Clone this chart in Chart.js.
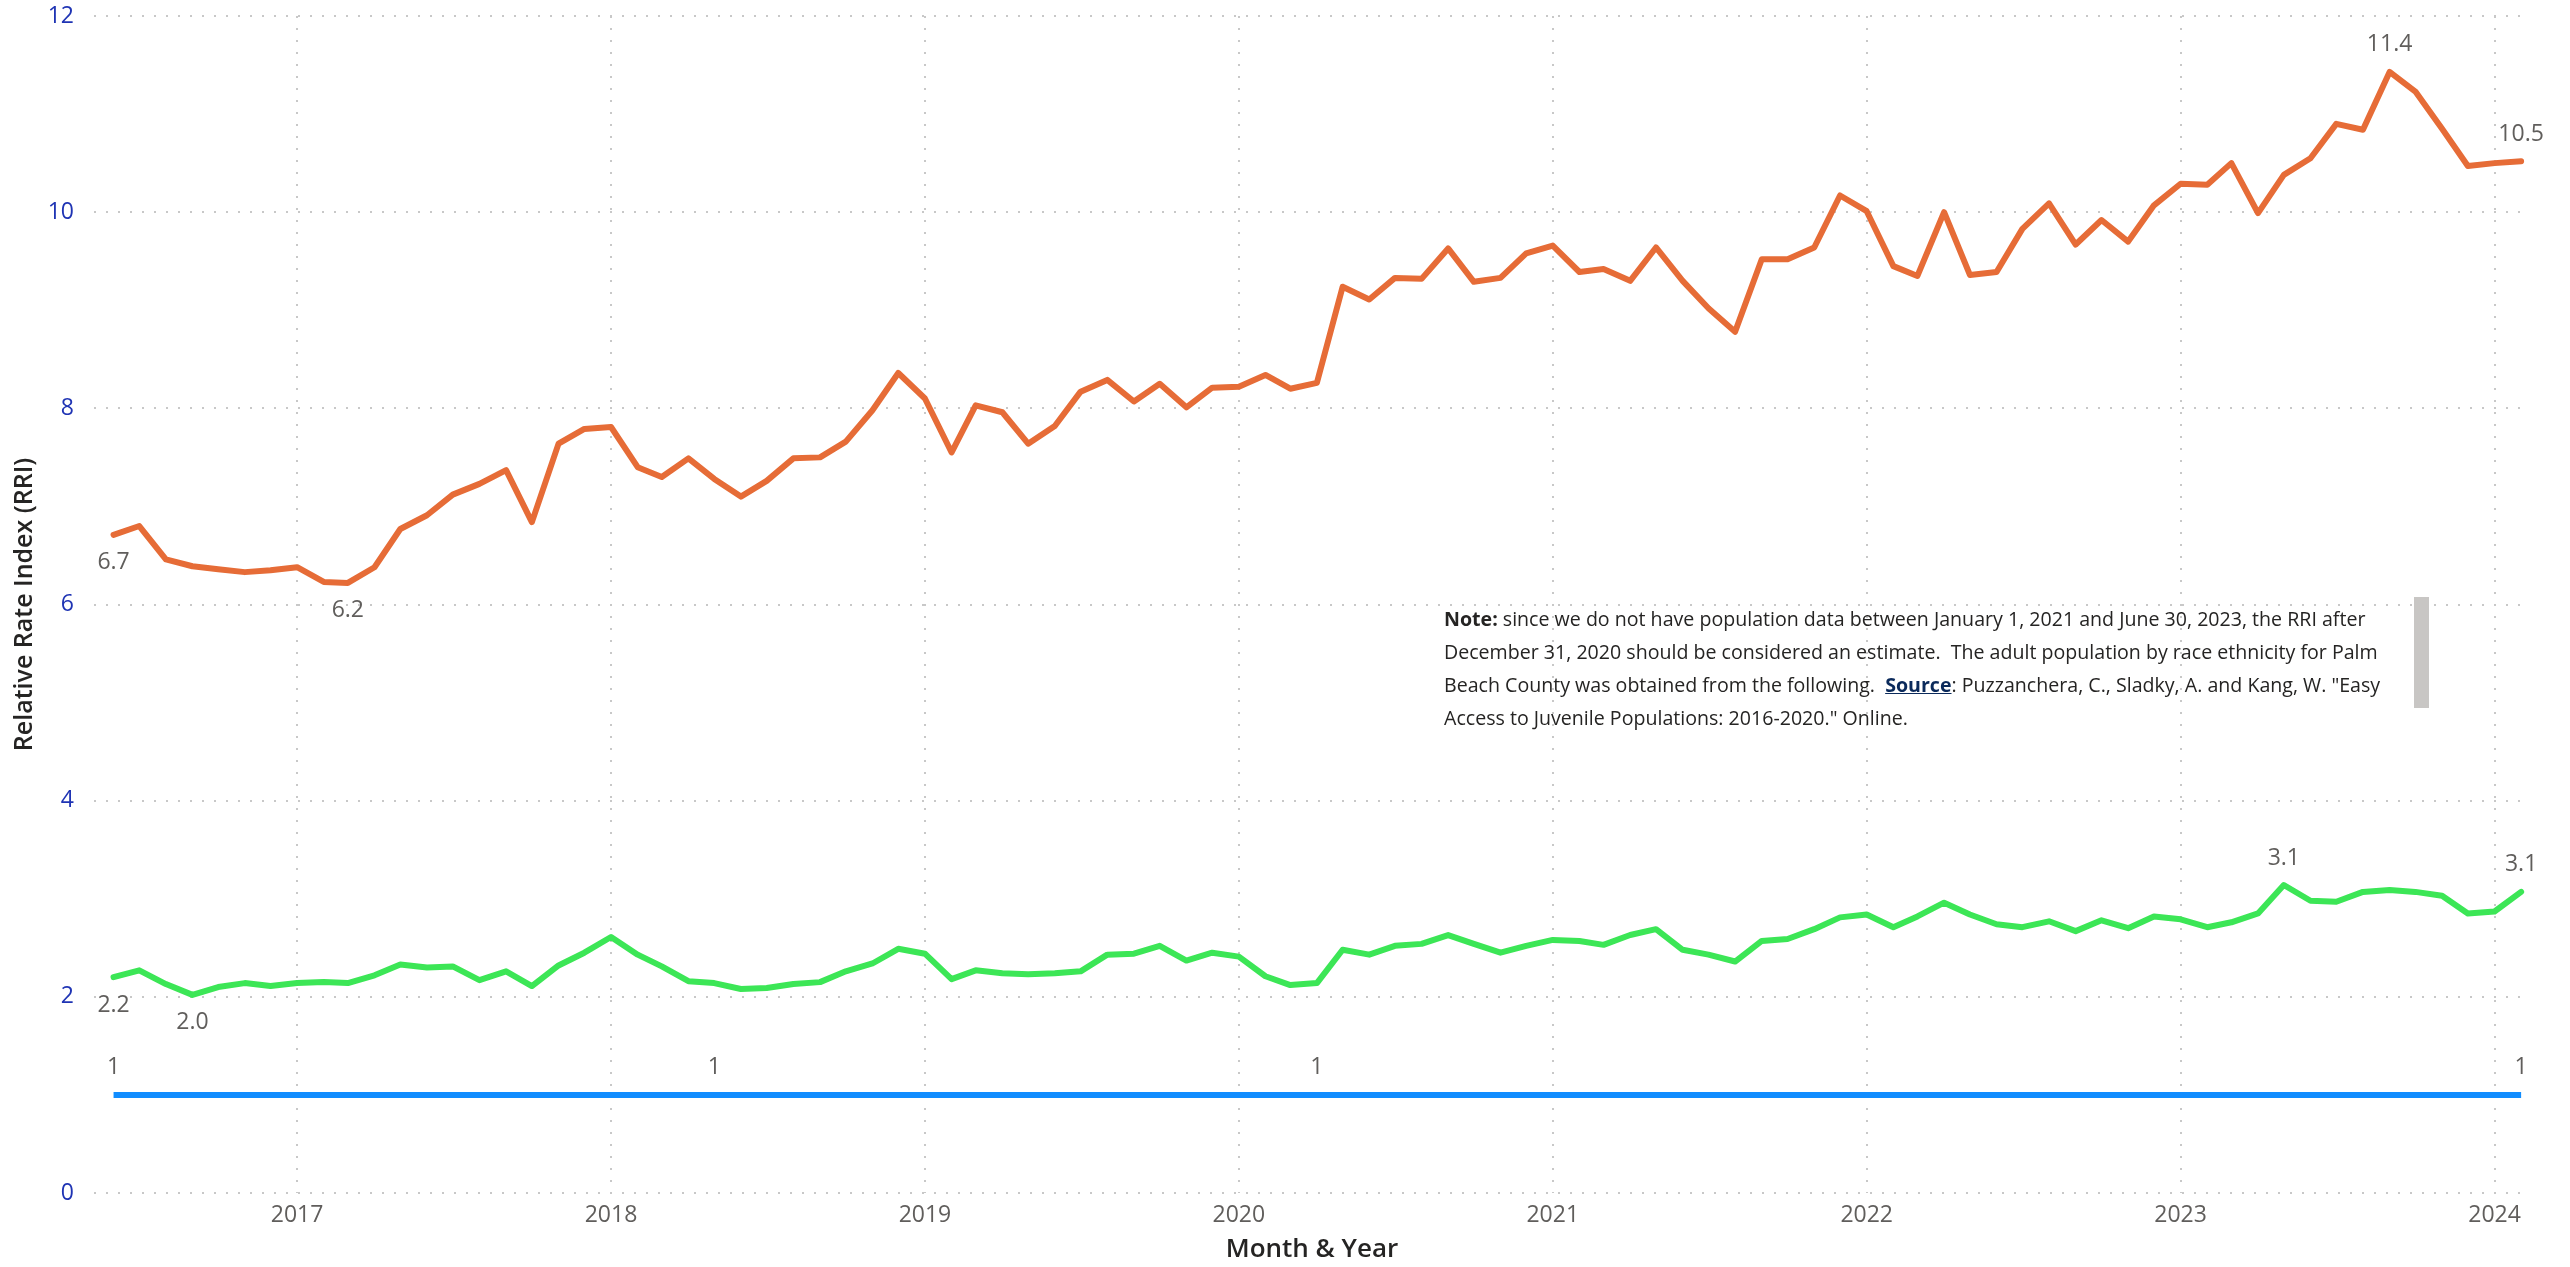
<!DOCTYPE html>
<html><head><meta charset="utf-8">
<script src="https://cdn.jsdelivr.net/npm/chart.js@4.4.1/dist/chart.umd.min.js"></script>
<style>
html,body{margin:0;padding:0;background:#fff;overflow:hidden}
#wrap{position:relative;width:2570px;height:1267px}
canvas{display:block}
#note{position:absolute;left:1444px;top:602px;font-family:"Segoe UI","Open Sans",sans-serif;font-size:19.6px;line-height:33px;color:#252423;white-space:nowrap}
#note b{font-weight:700}
#note .src{color:#0B2A5B;font-weight:700;text-decoration:underline}
#scroll{position:absolute;left:2414px;top:597px;width:15px;height:111px;background:#C8C6C4}
</style></head>
<body><div id="wrap"><canvas id="c" width="2570" height="1267"></canvas>
<div id="note"><b>Note:</b> since we do not have population data between January 1, 2021 and June 30, 2023, the RRI after<br>December 31, 2020 should be considered an estimate.&nbsp; The adult population by race ethnicity for Palm<br>Beach County was obtained from the following.&nbsp; <span class="src">Source</span>: Puzzanchera, C., Sladky, A. and Kang, W. "Easy<br>Access to Juvenile Populations: 2016-2020." Online.</div>
<div id="scroll"></div></div>
<script>
const months = [
 "2016-06","2016-07","2016-08","2016-09","2016-10","2016-11","2016-12",
 "2017-01","2017-02","2017-03","2017-04","2017-05","2017-06","2017-07","2017-08","2017-09","2017-10","2017-11","2017-12",
 "2018-01","2018-02","2018-03","2018-04","2018-05","2018-06","2018-07","2018-08","2018-09","2018-10","2018-11","2018-12",
 "2019-01","2019-02","2019-03","2019-04","2019-05","2019-06","2019-07","2019-08","2019-09","2019-10","2019-11","2019-12",
 "2020-01","2020-02","2020-03","2020-04","2020-05","2020-06","2020-07","2020-08","2020-09","2020-10","2020-11","2020-12",
 "2021-01","2021-02","2021-03","2021-04","2021-05","2021-06","2021-07","2021-08","2021-09","2021-10","2021-11","2021-12",
 "2022-01","2022-02","2022-03","2022-04","2022-05","2022-06","2022-07","2022-08","2022-09","2022-10","2022-11","2022-12",
 "2023-01","2023-02","2023-03","2023-04","2023-05","2023-06","2023-07","2023-08","2023-09","2023-10","2023-11","2023-12",
 "2024-01","2024-02"];

const orangeRRI = [
 6.71,6.80,6.46,6.39,6.36,6.33,6.35,
 6.38,6.23,6.22,6.38,6.77,6.91,7.12,7.23,7.37,6.84,7.64,7.79,
 7.81,7.40,7.30,7.49,7.28,7.10,7.26,7.49,7.50,7.66,7.98,8.36,
 8.10,7.55,8.03,7.96,7.64,7.82,8.17,8.29,8.07,8.25,8.01,8.21,
 8.22,8.34,8.20,8.26,9.24,9.11,9.33,9.32,9.63,9.29,9.33,9.58,
 9.66,9.39,9.42,9.30,9.64,9.30,9.02,8.78,9.52,9.52,9.64,10.17,
 10.01,9.45,9.35,10.00,9.36,9.39,9.83,10.09,9.67,9.92,9.70,10.07,
 10.29,10.28,10.50,9.99,10.38,10.55,10.90,10.84,11.43,11.23,10.85,10.47,
 10.50,10.52];

const greenRRI = [
 2.20,2.27,2.13,2.02,2.10,2.14,2.11,
 2.14,2.15,2.14,2.22,2.33,2.30,2.31,2.17,2.26,2.11,2.32,2.45,
 2.61,2.43,2.31,2.16,2.14,2.08,2.09,2.13,2.15,2.26,2.34,2.49,
 2.44,2.18,2.27,2.24,2.23,2.24,2.26,2.43,2.44,2.52,2.37,2.45,
 2.41,2.21,2.12,2.14,2.48,2.43,2.52,2.54,2.63,2.54,2.45,2.52,
 2.58,2.57,2.53,2.63,2.69,2.48,2.43,2.36,2.57,2.59,2.69,2.81,
 2.84,2.71,2.82,2.96,2.84,2.74,2.71,2.77,2.67,2.78,2.70,2.82,
 2.79,2.71,2.76,2.85,3.14,2.98,2.97,3.07,3.09,3.07,3.03,2.85,
 2.87,3.07];

const blueRRI = [
 1,1,1,1,1,1,1,
 1,1,1,1,1,1,1,1,1,1,1,1,
 1,1,1,1,1,1,1,1,1,1,1,1,
 1,1,1,1,1,1,1,1,1,1,1,1,
 1,1,1,1,1,1,1,1,1,1,1,1,
 1,1,1,1,1,1,1,1,1,1,1,1,
 1,1,1,1,1,1,1,1,1,1,1,1,
 1,1,1,1,1,1,1,1,1,1,1,1,
 1,1];

const yearTicks = [2017,2018,2019,2020,2021,2022,2023,2024];
const yTicks = [0,2,4,6,8,10,12];
const blueLabelIdx = [0,23,46,92];

function toYearFrac(label){
  const [y,m] = label.split('-').map(Number);
  const s = Date.UTC(y,0,1), e = Date.UTC(y+1,0,1);
  return y + (Date.UTC(y,m-1,1)-s)/(e-s);
}
function pts(vals){ return months.map((mo,i)=>({x:toYearFrac(mo), y:vals[i]})); }
function extremes(vals){
  let mi=0, ma=0;
  vals.forEach((v,i)=>{ if(v<vals[mi]) mi=i; if(v>vals[ma]) ma=i; });
  return [[0,'below'],[mi,'below'],[ma,'above'],[vals.length-1,'above']];
}

const FONT = '"Segoe UI","Open Sans",sans-serif';

const labelPlugin = {
  id:'pointLabels',
  afterDatasetsDraw(chart){
    const ctx = chart.ctx;
    ctx.save();
    ctx.font = '23px ' + FONT;
    ctx.fillStyle = '#605E5C';
    ctx.textAlign = 'center';
    ctx.textBaseline = 'middle';
    chart.data.datasets.forEach((ds,i)=>{
      const meta = chart.getDatasetMeta(i);
      ds.labelPoints.forEach(([idx,pos])=>{
        const el = meta.data[idx];
        const v = ds.data[idx].y;
        const txt = ds.decimals ? v.toFixed(ds.decimals) : String(v);
        ctx.fillText(txt, el.x, el.y + (pos==='below' ? 28 : -27));
      });
    });
    ctx.restore();
  }
};

new Chart(document.getElementById('c'), {
  type:'line',
  data:{
    datasets:[
      {label:'Group A RRI', data:pts(orangeRRI), borderColor:'#E66C37', borderWidth:6, pointRadius:0, tension:0,
       borderJoinStyle:'round', borderCapStyle:'round', decimals:1, labelPoints:extremes(orangeRRI)},
      {label:'Group B RRI', data:pts(greenRRI), borderColor:'#3CE656', borderWidth:6, pointRadius:0, tension:0,
       borderJoinStyle:'round', borderCapStyle:'round', decimals:1, labelPoints:extremes(greenRRI)},
      {label:'Reference', data:pts(blueRRI), borderColor:'#118DFF', borderWidth:6, pointRadius:0, tension:0,
       borderCapStyle:'butt', decimals:0, labelPoints:blueLabelIdx.map(i=>[i,'above'])}
    ]
  },
  options:{
    responsive:false, animation:false, devicePixelRatio:1,
    layout:{padding:{top:16,right:40,bottom:0,left:0}},
    plugins:{legend:{display:false}, tooltip:{enabled:false}},
    scales:{
      x:{type:'linear', min:2016.353, max:2024.113,
         afterBuildTicks(s){ s.ticks = yearTicks.map(v=>({value:v})); },
         afterFit(s){ s.height = 74; s.paddingLeft = 0; s.paddingRight = 0; },
         grid:{drawTicks:false, color:'#C8C8C8', lineWidth:2},
         border:{display:false, dash:[2,10]},
         ticks:{padding:9, color:'#605E5C', font:{family:FONT, size:23}, callback:v=>String(v), maxRotation:0, autoSkip:false},
         title:{display:true, text:'Month & Year', color:'#252423', font:{family:FONT, size:26, weight:'600'}, padding:{top:0,bottom:2}}
      },
      y:{min:0, max:12,
         afterBuildTicks(s){ s.ticks = yTicks.map(v=>({value:v})); },
         afterFit(s){ s.width = 94; s.paddingTop = 0; s.paddingBottom = 0; },
         grid:{drawTicks:false, color:'#C8C8C8', lineWidth:2},
         border:{display:false, dash:[2,10]},
         ticks:{padding:20, color:'#1F34B4', font:{family:FONT, size:23}},
         title:{display:true, text:'Relative Rate Index (RRI)', color:'#252423', font:{family:FONT, size:25, weight:'600'}, padding:{top:10,bottom:0}}
      }
    }
  },
  plugins:[labelPlugin]
});
</script>
</body></html>
